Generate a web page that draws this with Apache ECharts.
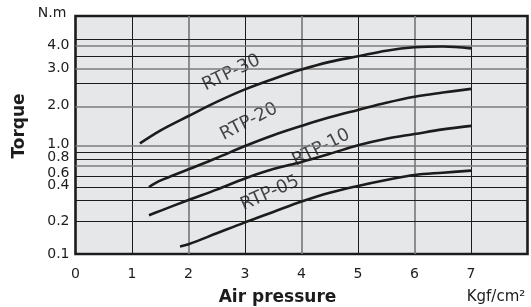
<!DOCTYPE html>
<html>
<head>
<meta charset="utf-8">
<script src="https://cdn.jsdelivr.net/npm/echarts@6/dist/echarts.min.js"></script>
<style>html,body{margin:0;padding:0;background:#fff;}#c{width:531px;height:307px;}</style>
</head>
<body>
<div id="c"></div>
<script>
// ---- data (air pressure in kgf/cm², torque in N.m) ----
const seriesNames = ['RTP-30', 'RTP-20', 'RTP-10', 'RTP-05'];
const pressure30 = [1.14, 1.5, 2, 2.5, 3, 3.5, 4, 4.5, 5, 5.5, 6, 6.5, 7];
const torque30   = [1.05, 1.38, 1.755, 2.10, 2.37, 2.65, 2.97, 3.28, 3.51, 3.77, 3.93, 3.97, 3.88];
const pressure20 = [1.30, 1.5, 2, 2.5, 3, 3.5, 4, 4.5, 5, 5.5, 6, 6.5, 7];
const torque20   = [0.40, 0.46, 0.568, 0.72, 0.98, 1.26, 1.50, 1.72, 1.91, 2.08, 2.21, 2.30, 2.38];
const pressure10 = [1.30, 1.5, 2, 2.5, 3, 3.5, 4, 4.5, 5, 5.5, 6, 6.5, 7];
const torque10   = [0.23, 0.25, 0.30, 0.38, 0.48, 0.57, 0.66, 0.78, 1.0, 1.17, 1.29, 1.41, 1.50];
const pressure05 = [1.85, 2, 2.5, 3, 3.5, 4, 4.5, 5, 5.5, 6, 6.5, 7];
const torque05   = [0.123, 0.130, 0.164, 0.198, 0.245, 0.293, 0.356, 0.41, 0.465, 0.513, 0.535, 0.555];

// curve label anchors (in data units)
const labelPressure = [2.76, 3.07, 4.35, 3.44];
const labelTorque   = [2.86, 1.61, 0.93, 0.352];
const labelAngle    = [26, 27, 27, 24];

// axis ticks
const xTicks = [0, 1, 2, 3, 4, 5, 6, 7];
const yTickLabels = [0.1, 0.2, 0.4, 0.6, 0.8, 1.0, 2.0, 3.0, 4.0];
const yGridValues = [0.2, 0.3, 0.4, 0.5, 0.6, 0.7, 0.8, 1.0, 2.0, 2.5, 3.0, 3.5, 4.0, 4.5];
const yGridMajor  = [0.6, 1.0, 2.0, 3.0, 4.0];

// ---- the chart's own non-uniform torque scale (torque -> scale units) ----
const axisStops   = [0.1, 0.2, 0.3, 0.4, 0.5, 0.6, 0.7, 0.8, 1.0, 2.0, 2.5, 3.0, 3.5, 4.0, 4.5, 6.0];
const axisStopPos = [0, 32.3, 54, 67, 77.7, 88, 94.7, 101.5, 108.7, 147.5, 170.7, 185.3, 197.5, 208.2, 214.7, 238];
function toU(t) {
  for (let i = 0; i < axisStops.length - 1; i++) {
    if (t <= axisStops[i + 1] || i === axisStops.length - 2) {
      const f = (t - axisStops[i]) / (axisStops[i + 1] - axisStops[i]);
      return axisStopPos[i] + f * (axisStopPos[i + 1] - axisStopPos[i]);
    }
  }
}
// label nudges (style: the printed labels sit slightly off their grid lines)
const labelNudge = {0.4: -1.7, 0.6: 7.8, 0.8: 5, 1.0: -1.3, 2.0: -0.8, 4.0: -0.8};

const FONT = 'DejaVu Sans';
const PLOT_BG = '#e6e7e8';
const INK = '#1c1c1c';

const yLabelU = yTickLabels.map(v => toU(v) - (labelNudge[v] || 0));

const gridLines = [];
xTicks.slice(1).forEach(v => {
  const major = v % 2 === 0;
  gridLines.push({xAxis: v, lineStyle: {color: major ? '#7c7c7c' : INK, width: major ? 1.7 : 1, type: 'solid'}});
});
yGridValues.forEach(v => {
  const major = yGridMajor.indexOf(v) >= 0;
  gridLines.push({yAxis: toU(v), lineStyle: {color: major ? '#7c7c7c' : INK, width: major ? 1.7 : 1, type: 'solid'}});
});

const curves = [[pressure30, torque30], [pressure20, torque20], [pressure10, torque10], [pressure05, torque05]];

const series = [{
  type: 'line', data: [], silent: true, z: 1,
  markLine: {silent: true, symbol: ['none', 'none'], animation: false, label: {show: false}, data: gridLines}
}];
curves.forEach((c, i) => {
  series.push({
    name: seriesNames[i], type: 'line', smooth: 0.35, showSymbol: false, z: 5,
    lineStyle: {color: INK, width: 2.6},
    data: c[0].map((x, j) => [x, toU(c[1][j])])
  });
});
series.push({
  type: 'scatter', symbolSize: 0, z: 4, silent: true,
  data: seriesNames.map((n, i) => ({
    name: n, value: [labelPressure[i], toU(labelTorque[i])],
    label: {rotate: labelAngle[i]}
  })),
  label: {
    show: true, position: 'inside', formatter: p => p.name,
    fontFamily: FONT, fontSize: 18, color: INK,
    backgroundColor: PLOT_BG, padding: [0, 3, 0, 3]
  }
});

const chart = echarts.init(document.getElementById('c'), null, {renderer: 'canvas'});
chart.setOption({
  animation: false,
  backgroundColor: '#ffffff',
  grid: {left: 75.5, right: 3.5, top: 16, bottom: 53, show: true,
         backgroundColor: PLOT_BG, borderColor: INK, borderWidth: 2.6},
  xAxis: {
    type: 'value', min: 0, max: 8, interval: 1,
    axisLine: {show: false}, axisTick: {show: false}, splitLine: {show: false},
    axisLabel: {margin: 13, fontFamily: FONT, fontSize: 14, color: INK,
                formatter: v => (xTicks.indexOf(v) >= 0 ? String(v) : '')}
  },
  yAxis: {
    type: 'value', min: 0, max: 238,
    axisLine: {show: false}, axisTick: {show: false}, splitLine: {show: false},
    axisLabel: {
      customValues: yLabelU, margin: 6, fontFamily: FONT, fontSize: 14, color: INK,
      showMinLabel: true, showMaxLabel: true,
      formatter: u => {
        for (let i = 0; i < yLabelU.length; i++) {
          if (Math.abs(yLabelU[i] - u) < 0.01) return yTickLabels[i].toFixed(1);
        }
        return '';
      }
    }
  },
  graphic: [
    {type: 'text', x: 52, y: 13.5, style: {text: 'N.m', font: '14px "' + FONT + '"', fill: INK, align: 'center', verticalAlign: 'middle'}},
    {type: 'text', x: 19.5, y: 126, rotation: Math.PI / 2, style: {text: 'Torque', font: 'bold 17px "' + FONT + '"', fill: INK, align: 'center', verticalAlign: 'middle'}},
    {type: 'text', x: 277.5, y: 297.5, style: {text: 'Air pressure', font: 'bold 17px "' + FONT + '"', fill: INK, align: 'center', verticalAlign: 'middle'}},
    {type: 'text', x: 496, y: 297, style: {text: 'Kgf/cm²', font: '15px "' + FONT + '"', fill: INK, align: 'center', verticalAlign: 'middle'}}
  ],
  series: series
});
</script>
</body>
</html>
